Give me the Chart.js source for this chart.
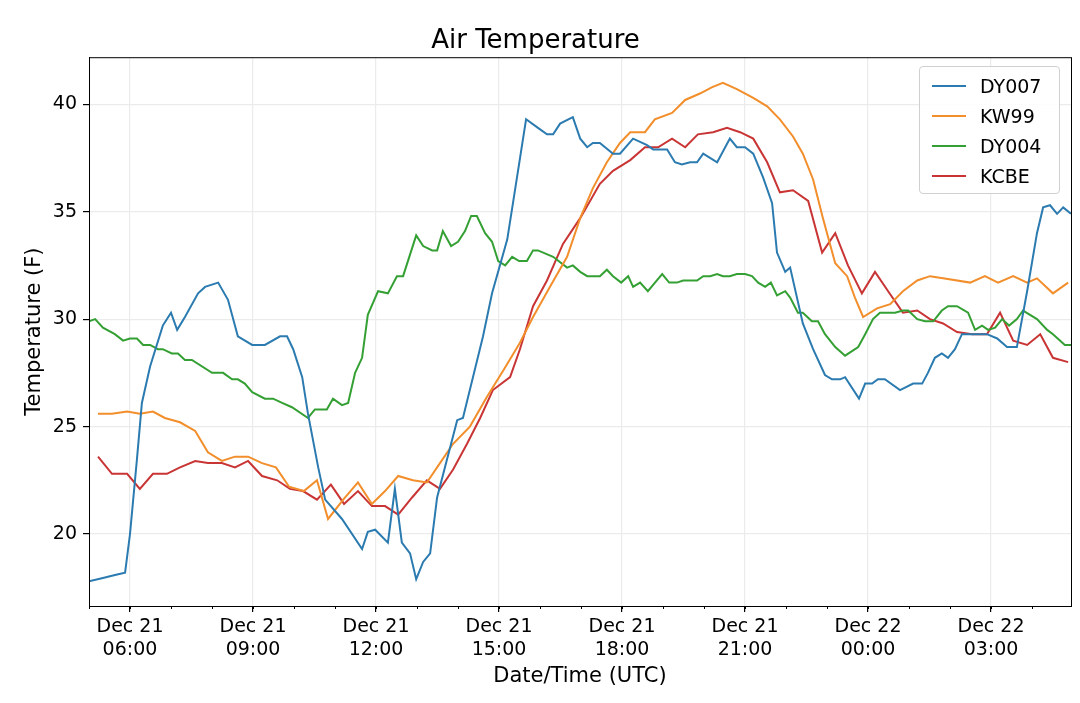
<!DOCTYPE html>
<html>
<head>
<meta charset="utf-8">
<script src="https://cdn.jsdelivr.net/npm/chart.js@4"></script>
<style>
  html, body { margin: 0; padding: 0; background: #fff; }
  #wrap { position: relative; width: 1080px; height: 703px; }
  #legend {
    position: absolute; left: 919px; top: 66px; width: 141px; height: 128px;
    border: 1px solid #d0d0d0; border-radius: 4px; background: rgba(255,255,255,0.85);
    font-family: "DejaVu Sans", sans-serif; font-size: 19px; color: #000; box-sizing: border-box;
    padding-top: 4px;
  }
  .row { height: 30px; line-height: 30px; display: flex; align-items: center; }
  .sw { width: 34px; height: 2px; margin: 0 14px 0 12px; }
</style>
</head>
<body>
<div id="wrap">
  <canvas id="chart" width="1080" height="703"></canvas>
  <div id="legend"></div>
</div>
<script>
// hours since 00:00 Dec 21 (UTC)
var dy007Time = [5.00,5.34,5.66,5.88,6.00,6.17,6.29,6.49,6.80,7.00,7.15,7.34,7.66,7.83,8.15,8.39,8.63,8.98,9.29,9.66,9.83,9.98,10.20,10.34,10.59,10.76,11.17,11.66,11.80,11.98,12.29,12.46,12.63,12.83,12.98,13.15,13.32,13.49,13.98,14.12,14.61,14.83,15.20,15.34,15.66,15.95,16.17,16.32,16.49,16.80,16.98,17.15,17.29,17.46,17.78,17.95,18.27,18.61,18.76,19.10,19.29,19.46,19.66,19.83,19.98,20.32,20.63,20.80,21.00,21.20,21.44,21.66,21.78,21.98,22.10,22.41,22.66,22.95,23.12,23.32,23.44,23.78,23.93,24.10,24.24,24.41,24.78,25.10,25.32,25.46,25.63,25.80,25.95,26.12,26.29,26.90,27.15,27.39,27.63,27.88,28.12,28.27,28.44,28.61,28.76,28.95];
var dy007Temp = [17.8,17.95,18.1,18.2,20.0,23.5,26.1,27.8,29.7,30.3,29.5,30.1,31.2,31.5,31.7,30.9,29.2,28.8,28.8,29.2,29.2,28.6,27.3,25.6,23.1,21.6,20.7,19.3,20.1,20.2,19.6,22.1,19.6,19.1,17.9,18.7,19.1,21.7,25.3,25.4,29.2,31.2,33.7,35.4,39.3,38.9,38.6,38.6,39.1,39.4,38.4,38.0,38.2,38.2,37.7,37.7,38.4,38.1,37.9,37.9,37.3,37.2,37.3,37.3,37.7,37.3,38.4,38.0,38.0,37.7,36.6,35.4,33.1,32.2,32.4,29.8,28.6,27.4,27.2,27.2,27.3,26.3,27.0,27.0,27.2,27.2,26.7,27.0,27.0,27.5,28.2,28.4,28.2,28.6,29.3,29.3,29.1,28.7,28.7,31.3,34.0,35.2,35.3,34.9,35.2,34.9];

var kw99Time = [5.22,5.56,5.93,6.24,6.56,6.85,7.22,7.59,7.90,8.24,8.56,8.88,9.22,9.56,9.88,10.24,10.56,10.83,11.20,11.56,11.90,12.22,12.54,12.90,13.24,13.56,13.88,14.29,14.71,15.10,15.51,15.83,16.24,16.66,16.98,17.29,17.63,17.95,18.20,18.56,18.80,19.22,19.54,19.90,20.20,20.46,20.80,21.20,21.54,21.85,22.17,22.41,22.66,22.90,23.20,23.49,23.68,23.88,24.22,24.54,24.85,25.20,25.51,25.83,26.49,26.85,27.17,27.54,27.88,28.12,28.51,28.88];
var kw99Temp = [25.6,25.6,25.7,25.6,25.7,25.4,25.2,24.8,23.8,23.4,23.6,23.6,23.3,23.1,22.2,22.0,22.5,20.7,21.6,22.4,21.4,22.0,22.7,22.5,22.4,23.3,24.2,25.0,26.4,27.6,28.9,30.1,31.5,32.9,34.7,36.1,37.3,38.2,38.7,38.7,39.3,39.6,40.2,40.5,40.8,41.0,40.7,40.3,39.9,39.3,38.5,37.7,36.5,34.7,32.6,32.0,31.0,30.1,30.5,30.7,31.3,31.8,32.0,31.9,31.7,32.0,31.7,32.0,31.7,31.9,31.2,31.7];

var dy004Time = [5.00,5.15,5.34,5.63,5.83,6.00,6.17,6.32,6.49,6.68,6.80,7.02,7.17,7.34,7.51,8.00,8.27,8.49,8.63,8.80,8.98,9.29,9.49,9.71,9.95,10.34,10.51,10.80,10.95,11.17,11.32,11.49,11.66,11.80,12.05,12.29,12.51,12.66,12.98,13.15,13.37,13.49,13.63,13.83,14.00,14.17,14.32,14.46,14.66,14.83,14.98,15.15,15.32,15.49,15.68,15.83,15.95,16.32,16.66,16.80,16.98,17.15,17.46,17.63,17.78,17.98,18.15,18.27,18.44,18.63,18.85,18.98,19.15,19.34,19.49,19.83,19.98,20.15,20.32,20.46,20.63,20.80,21.00,21.17,21.32,21.49,21.63,21.78,21.98,22.10,22.29,22.41,22.63,22.78,22.95,23.20,23.44,23.76,23.93,24.12,24.29,24.66,24.85,24.98,25.20,25.39,25.59,25.80,25.95,26.17,26.44,26.61,26.78,26.93,27.10,27.27,27.44,27.63,27.78,28.12,28.37,28.51,28.80,28.95];
var dy004Temp = [29.9,30.0,29.6,29.3,29.0,29.1,29.1,28.8,28.8,28.6,28.6,28.4,28.4,28.1,28.1,27.5,27.5,27.2,27.2,27.0,26.6,26.3,26.3,26.1,25.9,25.4,25.8,25.8,26.3,26.0,26.1,27.5,28.2,30.2,31.3,31.2,32.0,32.0,33.9,33.4,33.2,33.2,34.1,33.4,33.6,34.1,34.8,34.8,34.0,33.6,32.7,32.5,32.9,32.7,32.7,33.2,33.2,32.9,32.4,32.5,32.2,32.0,32.0,32.3,32.0,31.7,32.0,31.5,31.7,31.3,31.8,32.1,31.7,31.7,31.8,31.8,32.0,32.0,32.1,32.0,32.0,32.1,32.1,32.0,31.7,31.5,31.7,31.1,31.3,31.0,30.3,30.3,29.9,29.9,29.3,28.7,28.3,28.7,29.3,30.0,30.3,30.3,30.4,30.4,30.0,29.9,29.9,30.4,30.6,30.6,30.3,29.5,29.7,29.5,29.6,30.0,29.7,30.0,30.4,30.0,29.5,29.3,28.8,28.8];

var kcbeTime = [5.22,5.56,5.93,6.24,6.56,6.90,7.22,7.59,7.90,8.24,8.56,8.88,9.22,9.59,9.90,10.22,10.56,10.90,11.22,11.56,11.90,12.22,12.54,12.88,13.24,13.56,13.88,14.22,14.54,14.85,15.27,15.51,15.83,16.17,16.56,16.98,17.46,17.78,18.20,18.56,18.88,19.22,19.54,19.85,20.22,20.56,20.88,21.20,21.54,21.85,22.17,22.54,22.88,23.20,23.51,23.85,24.17,24.49,24.85,25.20,25.51,25.83,26.17,26.54,26.90,27.22,27.54,27.88,28.20,28.51,28.88];
var kcbeTemp = [23.6,22.8,22.8,22.1,22.8,22.8,23.1,23.4,23.3,23.3,23.1,23.4,22.7,22.5,22.1,22.0,21.6,22.3,21.4,22.0,21.3,21.3,20.9,21.7,22.5,22.1,23.0,24.2,25.4,26.7,27.3,28.6,30.6,31.8,33.5,34.7,36.3,36.9,37.4,38.0,38.0,38.4,38.0,38.6,38.7,38.9,38.7,38.4,37.3,35.9,36.0,35.5,33.1,34.0,32.5,31.2,32.2,31.3,30.3,30.4,30.0,29.8,29.4,29.3,29.3,30.3,29.0,28.8,29.3,28.2,28.0];

var seriesNames = ["DY007", "KW99", "DY004", "KCBE"];
var seriesColors = ["#2b7bb0", "#f28e2b", "#34a034", "#c93535"];
var tickHours = [6, 9, 12, 15, 18, 21, 24, 27];
var tickLabels = [["Dec 21","06:00"],["Dec 21","09:00"],["Dec 21","12:00"],["Dec 21","15:00"],["Dec 21","18:00"],["Dec 21","21:00"],["Dec 22","00:00"],["Dec 22","03:00"]];
var yTicks = [20, 25, 30, 35, 40];

function pts(t, v) { return t.map((x, i) => ({x: x, y: v[i]})); }
var allSeries = [pts(dy007Time, dy007Temp), pts(kw99Time, kw99Temp), pts(dy004Time, dy004Temp), pts(kcbeTime, kcbeTemp)];

var font = "'DejaVu Sans', sans-serif";
Chart.defaults.font.family = font;
Chart.defaults.color = "#000";

var ctx = document.getElementById("chart").getContext("2d");
new Chart(ctx, {
  type: "line",
  data: {
    datasets: allSeries.map((d, i) => ({
      label: seriesNames[i], data: d, borderColor: seriesColors[i],
      borderWidth: 2, pointRadius: 0, tension: 0, fill: false
    }))
  },
  options: {
    responsive: false, animation: false,
    layout: { padding: { left: 0, right: 9, top: 0, bottom: 0 } },
    plugins: {
      legend: { display: false },
      tooltip: { enabled: false },
      title: { display: true, text: "Air Temperature", font: { size: 26, weight: "normal" },
               padding: { top: 26, bottom: 0 } }
    },
    scales: {
      x: {
        type: "linear", min: 5.0, max: 28.95,
        afterBuildTicks: s => { s.ticks = tickHours.map(v => ({value: v})); },
        afterFit: s => { s.height = 97; },
        ticks: { font: { size: 19 }, maxRotation: 0, padding: 4,
                 callback: v => tickLabels[tickHours.indexOf(v)] },
        grid: { color: "#ebebeb", lineWidth: 1.2, tickLength: 6, tickColor: "#000" },
        border: { color: "#000", width: 1 },
        title: { display: true, text: "Date/Time (UTC)", font: { size: 21 }, padding: { top: 2, bottom: 14 } }
      },
      y: {
        min: 16.65, max: 42.19,
        afterBuildTicks: s => { s.ticks = yTicks.map(v => ({value: v})); },
        afterFit: s => { s.width = 89; },
        ticks: { font: { size: 19 }, padding: 6 },
        grid: { color: "#ebebeb", lineWidth: 1.2, tickLength: 6, tickColor: "#000" },
        border: { color: "#000", width: 1 },
        title: { display: true, text: "Temperature (F)", font: { size: 21 }, padding: { top: 22, bottom: 4 } }
      }
    }
  },
  plugins: [{
    id: "frame",
    afterDraw: c => {
      var a = c.chartArea, g = c.ctx;
      g.save(); g.strokeStyle = "#000"; g.lineWidth = 1;
      g.strokeRect(a.left + 0.5, a.top + 0.5, a.right - a.left, a.bottom - a.top);
      // minor hourly ticks
      var xs = c.scales.x;
      for (var h = 5; h <= 28; h++) {
        var px = Math.round(xs.getPixelForValue(h)) + 0.5;
        g.beginPath(); g.moveTo(px, a.bottom); g.lineTo(px, a.bottom + 3); g.stroke();
      }
      g.restore();
    }
  }]
});

var lg = document.getElementById("legend");
seriesNames.forEach((n, i) => {
  lg.innerHTML += '<div class="row"><div class="sw" style="background:' + seriesColors[i] + '"></div>' + n + '</div>';
});
</script>
</body>
</html>
